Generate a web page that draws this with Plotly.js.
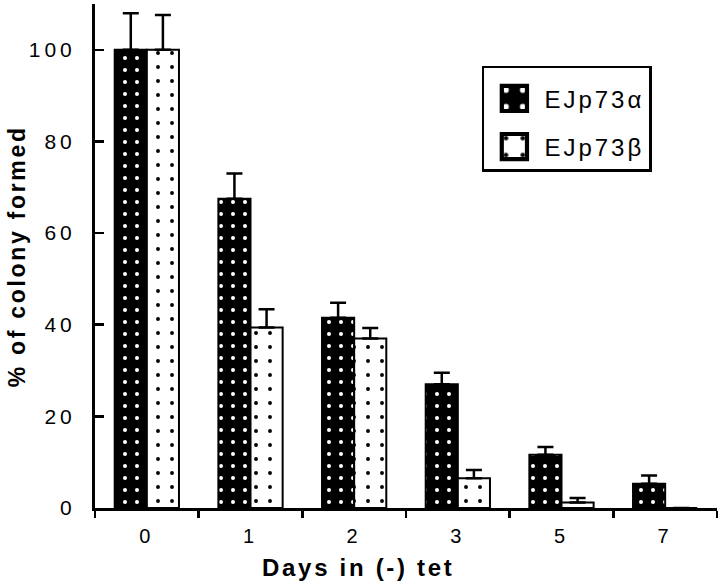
<!DOCTYPE html>
<html>
<head>
<meta charset="utf-8">
<script src="https://cdn.plot.ly/plotly-3.0.1.min.js"></script>
<style>
  html, body { margin: 0; padding: 0; background: #fff; }
  #chart { width: 720px; height: 585px; }
  .xtick text, .ytick text { letter-spacing: 4px; }
  .legendtext { letter-spacing: 3px; }
  .annotation-text { letter-spacing: 2.7px; }
  .legendpoints { transform-box: fill-box; transform-origin: center; transform: scale(2.1); }
</style>
</head>
<body>
<div id="chart"></div>
<script>
// Data
const days = ['0', '1', '2', '3', '5', '7'];
const alphaValues = [100, 67.5, 41.5, 27, 11.6, 5.3];
const alphaErrors = [8, 5.5, 3.3, 2.5, 1.7, 1.8];
const betaValues = [100, 39.4, 37, 6.5, 1.2, 0];
const betaErrors = [7.6, 4, 2.3, 1.8, 1, 0];
const yTickValues = [0, 20, 40, 60, 80, 100, 110];
const yTickLabels = ['0', '20', '40', '60', '80', '100', ''];

const zeros = days.map(() => 0);

const traceAlpha = {
  type: 'bar',
  name: 'EJp73α',
  x: days,
  y: alphaValues,
  legendgroup: 'a',
  marker: {
    color: 'black',
    line: { color: 'black', width: 2 },
    pattern: { shape: '.', fillmode: 'replace', bgcolor: 'black', fgcolor: 'white', size: 12, solidity: 0.09 }
  },
  error_y: { type: 'data', symmetric: false, array: alphaErrors, arrayminus: zeros, color: 'black', thickness: 2.5, width: 8, visible: true }
};

const traceBeta = {
  type: 'bar',
  name: 'EJp73β',
  x: days,
  y: betaValues,
  legendgroup: 'b',
  marker: {
    color: 'white',
    line: { color: 'black', width: 2 },
    pattern: { shape: '.', fillmode: 'replace', bgcolor: 'white', fgcolor: 'black', size: 14, solidity: 0.06 }
  },
  error_y: { type: 'data', symmetric: false, array: betaErrors, arrayminus: zeros, color: 'black', thickness: 2.5, width: 8, visible: true }
};

const layout = {
  width: 720,
  height: 585,
  margin: { l: 95, r: 3, t: 4, b: 77 },
  paper_bgcolor: 'white',
  plot_bgcolor: 'white',
  font: { family: '"Liberation Sans", Arial, sans-serif', color: 'black', size: 20 },
  barmode: 'group',
  bargap: 0.38,
  bargroupgap: 0,
  showlegend: true,
  legend: {
    x: 0.622, y: 0.877, xanchor: 'left', yanchor: 'top',
    bordercolor: 'black', borderwidth: 2.5, bgcolor: 'white',
    font: { size: 24, color: 'black' },
    title: { text: ' ', font: { size: 6 } },
    traceorder: 'grouped', tracegroupgap: 14,
    itemwidth: 50,
    entrywidth: 176
  },
  xaxis: {
    type: 'category',
    showline: true, linecolor: 'black', linewidth: 3,
    ticks: 'outside', tickson: 'boundaries', ticklen: 7, tickwidth: 2.5, tickcolor: 'black',
    tickfont: { size: 20 },
    ticklabelstandoff: 8,
    showgrid: false, zeroline: false, fixedrange: true
  },
  yaxis: {
    range: [0, 110],
    showline: true, linecolor: 'black', linewidth: 3,
    ticks: 'inside', ticklen: 9, tickwidth: 2.5, tickcolor: 'black',
    tickvals: yTickValues, ticktext: yTickLabels,
    tickfont: { size: 21 },
    ticklabelstandoff: 12,
    showgrid: false, zeroline: false, fixedrange: true
  },
  annotations: [
    {
      text: '<b>% of colony formed</b>', xref: 'paper', yref: 'paper',
      x: -0.125, y: 0.5, xanchor: 'center', yanchor: 'middle',
      textangle: -90, showarrow: false, font: { size: 23, color: 'black' }
    },
    {
      text: '<b>Days in (-) tet</b>', xref: 'paper', yref: 'paper',
      x: 0.424, y: -0.119, xanchor: 'center', yanchor: 'middle',
      showarrow: false, font: { size: 24, color: 'black' }
    }
  ]
};

Plotly.newPlot('chart', [traceAlpha, traceBeta], layout, { displayModeBar: false, staticPlot: true });
</script>
</body>
</html>
